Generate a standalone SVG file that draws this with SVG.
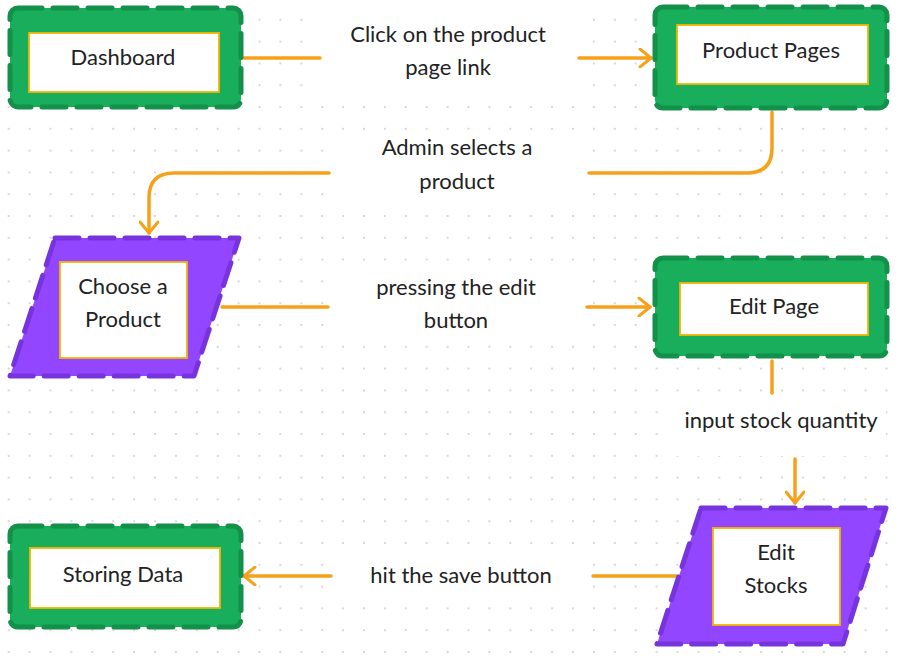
<svg xmlns="http://www.w3.org/2000/svg" width="905" height="658" viewBox="0 0 905 658">
<defs>
<pattern id="dots" x="8.7" y="-2" width="20.9" height="21.8" patternUnits="userSpaceOnUse">
<circle cx="0" cy="0" r="1.1" fill="#cfcfcf"/><circle cx="20.9" cy="0" r="1.1" fill="#cfcfcf"/><circle cx="0" cy="21.8" r="1.1" fill="#cfcfcf"/><circle cx="20.9" cy="21.8" r="1.1" fill="#cfcfcf"/>
</pattern>
<marker id="arr" viewBox="0 0 16 20" refX="14" refY="10" markerWidth="16" markerHeight="20" markerUnits="userSpaceOnUse" orient="auto">
<path d="M3,1 L14,10 L3,19" fill="none" stroke="#F7A11A" stroke-width="3" stroke-linecap="round" stroke-linejoin="round"/>
</marker>
</defs>
<style>
text{font-family:Lato,"Open Sans","Liberation Sans",sans-serif;font-size:22px;fill:#222;text-anchor:middle}
.g{fill:#19AE5C;stroke:#13904A;stroke-width:5;stroke-dasharray:24 11;stroke-linecap:round;stroke-linejoin:round}
.p{fill:#9246FF;stroke:#7734DD;stroke-width:5;stroke-dasharray:24 11;stroke-linecap:round;stroke-linejoin:round}
.in{fill:#fff;stroke:#F5B400;stroke-width:1.8}
.c{fill:none;stroke:#F7A11A;stroke-width:3.5;stroke-linecap:round}
.lb{fill:#fff}
</style>
<rect width="905" height="658" fill="#fff"/>
<rect width="905" height="658" fill="url(#dots)"/>

<g id="connectors">
<rect class="lb" x="320" y="18" width="258" height="72"/>
<rect class="lb" x="330" y="130" width="258" height="70"/>
<rect class="lb" x="328" y="268" width="258" height="72"/>
<rect class="lb" x="676" y="396" width="210" height="60"/>
<rect class="lb" x="332" y="554" width="260" height="44"/>
<line class="c" x1="244" y1="58" x2="320" y2="58"/>
<line class="c" x1="579" y1="58" x2="651" y2="58" marker-end="url(#arr)"/>
<text x="448" y="42">Click on the product</text>
<text x="448" y="75">page link</text>
<path class="c" d="M772,112 V148 Q772,173 747,173 H589"/>
<path class="c" d="M329,173 H174 Q149,173 149,198 V233" marker-end="url(#arr)"/>
<text x="457" y="155">Admin selects a</text>
<text x="457" y="189">product</text>
<line class="c" x1="222" y1="307" x2="328" y2="307"/>
<line class="c" x1="587" y1="307" x2="650" y2="307" marker-end="url(#arr)"/>
<text x="456" y="295">pressing the edit</text>
<text x="456" y="328">button</text>
<line class="c" x1="772" y1="361" x2="772" y2="393"/>
<line class="c" x1="795" y1="459" x2="795" y2="503" marker-end="url(#arr)"/>
<text x="781" y="428">input stock quantity</text>
<line class="c" x1="677" y1="576" x2="593" y2="576"/>
<line class="c" x1="331" y1="576" x2="244" y2="576" marker-end="url(#arr)"/>
<text x="461" y="583">hit the save button</text>
</g>

<g id="dashboard">
<rect class="g" x="10" y="8" width="231" height="99" rx="8"/>
<rect class="in" x="29" y="33" width="190" height="59"/>
<text x="123" y="65">Dashboard</text>
</g>
<g id="product-pages">
<rect class="g" x="655" y="7" width="232" height="101" rx="8"/>
<rect class="in" x="677" y="25" width="191" height="59"/>
<text x="771" y="58">Product Pages</text>
</g>
<g id="choose-product">
<path class="p" d="M55,238 H239 L194,376 H10 Z"/>
<rect class="in" x="60" y="262" width="127" height="96"/>
<text x="123" y="294">Choose a</text>
<text x="123" y="327">Product</text>
</g>
<g id="edit-page">
<rect class="g" x="655" y="258" width="232" height="98" rx="8"/>
<rect class="in" x="680" y="283" width="188" height="52"/>
<text x="774" y="314">Edit Page</text>
</g>
<g id="edit-stocks">
<path class="p" d="M701,508 H886 L843,644 H657 Z"/>
<rect class="in" x="713" y="528" width="127" height="97"/>
<text x="776" y="560">Edit</text>
<text x="776" y="593">Stocks</text>
</g>
<g id="storing-data">
<rect class="g" x="10" y="526" width="231" height="101" rx="8"/>
<rect class="in" x="30" y="548" width="190" height="60"/>
<text x="123" y="582">Storing Data</text>
</g>
</svg>
